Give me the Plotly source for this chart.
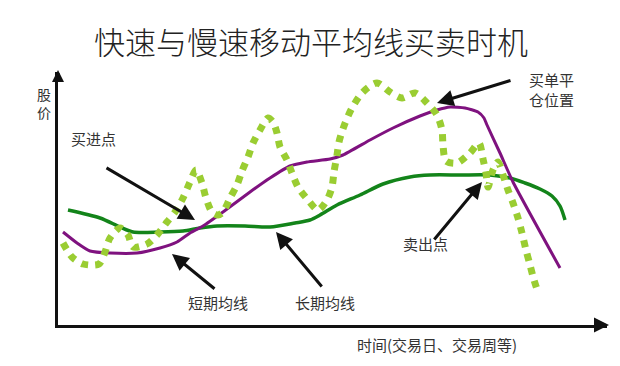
import plotly.graph_objects as go

# time (x) and price (y) values
long_t = [10, 42, 62, 75, 102, 125, 142, 159, 187, 212, 237, 252, 262, 279, 302, 325, 352, 372, 402, 432, 452, 467, 482, 494, 502, 507]
long_p = [115, 107, 98, 93, 93, 94, 97, 99, 99, 98, 102, 105, 110, 120, 130, 141, 148, 150, 150, 150, 147, 142, 136, 129, 119, 105]

short_t = [5, 19, 32, 52, 79, 102, 119, 132, 145, 165, 192, 212, 232, 249, 272, 285, 312, 335, 362, 379, 392, 407, 420, 426, 429, 442, 455, 502]
short_p = [93, 82, 74, 72, 72, 77, 83, 92, 99, 113, 133, 147, 159, 163, 166, 170, 185, 197, 209, 215, 218, 217, 213, 207, 200, 172, 143, 57]

price_t = [5, 14, 25, 41, 47, 52, 62, 70, 75, 89, 99, 109, 117, 125, 132, 138, 144, 148, 154, 160,
           165, 172, 179, 184, 190, 195, 202, 210, 215, 219, 222, 229, 234, 240, 250, 260, 269, 274, 276, 279,
           281, 286, 294, 305, 319, 332, 344, 357, 369, 379, 384, 385, 388, 399, 412, 421, 425, 428, 430, 435,
           440, 445, 450, 455, 460, 464, 468, 472, 476, 480]
price_p = [82, 68, 61, 61, 73, 87, 97, 90, 78, 81, 90, 103, 113, 127, 143, 155, 142, 127, 113, 110,
           113, 127, 140, 154, 168, 182, 195, 207, 203, 192, 178, 165, 152, 138, 125, 115, 125, 138, 153, 170,
           183, 199, 217, 233, 242, 233, 227, 232, 222, 210, 195, 180, 164, 162, 172, 182, 166, 152, 138, 155,
           163, 150, 135, 122, 107, 92, 75, 60, 45, 33]

X_MAX = 549
Y_MAX = 253

title_text = "快速与慢速移动平均线买卖时机"
y_label = "股<br>价"
x_label = "时间(交易日、交易周等)"

# labels: (text, x, y) in chart units
labels = [
    ("买进点", 35, 187),
    ("卖出点", 367, 82),
    ("短期均线", 160, 23),
    ("长期均线", 267, 23),
]
# arrows: (tail_x, tail_y, head_x, head_y)
arrows = [
    (47, 158, 137, 105),
    (454, 245, 379, 222),
    (375, 84, 424, 143),
    (158, 35, 114, 71),
    (265, 37, 218, 93),
]

FONT = "Noto Sans CJK SC"

fig = go.Figure()
fig.add_trace(go.Scatter(x=long_t, y=long_p, mode="lines",
                         line=dict(color="#13841a", width=3.5, shape="spline", smoothing=0.8),
                         hoverinfo="skip"))
fig.add_trace(go.Scatter(x=short_t, y=short_p, mode="lines",
                         line=dict(color="#7f127f", width=3, shape="spline", smoothing=0.5),
                         hoverinfo="skip"))
fig.add_trace(go.Scatter(x=price_t, y=price_p, mode="lines",
                         line=dict(color="#9acd32", width=7, dash="7px,7px", shape="spline", smoothing=0.8),
                         hoverinfo="skip"))

ann = []
for tx, ty, hx, hy in arrows:
    ann.append(dict(x=hx, y=hy, ax=tx, ay=ty, xref="x", yref="y", axref="x", ayref="y",
                    text="", showarrow=True, arrowhead=2, arrowsize=1.1, arrowwidth=3,
                    arrowcolor="#111111", standoff=0, startstandoff=0))
for txt, x, y in labels:
    ann.append(dict(x=x, y=y, xref="x", yref="y", text=txt, showarrow=False,
                    xanchor="center", yanchor="middle",
                    font=dict(family=FONT, size=15, color="#333333")))
ann.append(dict(x=469, y=236, xref="x", yref="y", text="买单平<br>仓位置", showarrow=False,
                xanchor="left", yanchor="middle", align="left",
                font=dict(family=FONT, size=15, color="#333333")))
ann.append(dict(x=-14 / X_MAX, y=222 / Y_MAX, xref="paper", yref="paper", text=y_label, showarrow=False,
                xanchor="center", yanchor="middle",
                font=dict(family=FONT, size=14, color="#333333")))
ann.append(dict(x=379 / X_MAX, y=-19 / Y_MAX, xref="paper", yref="paper", text=x_label, showarrow=False,
                xanchor="center", yanchor="middle",
                font=dict(family=FONT, size=15, color="#333333")))
ann.append(dict(x=253 / X_MAX, y=285 / Y_MAX, xref="paper", yref="paper", text=title_text, showarrow=False,
                xanchor="center", yanchor="middle",
                font=dict(family=FONT, size=31, color="#222222", weight=300)))
# axis arrowheads
ann.append(dict(x=551, y=0, ax=538, ay=0, xref="x", yref="y", axref="x", ayref="y", text="",
                showarrow=True, arrowhead=2, arrowsize=1, arrowwidth=3, arrowcolor="#111111", standoff=0))
ann.append(dict(x=0, y=255, ax=0, ay=243, xref="x", yref="y", axref="x", ayref="y", text="",
                showarrow=True, arrowhead=2, arrowsize=0.8, arrowwidth=3, arrowcolor="#111111", standoff=0))

fig.update_layout(
    width=620, height=366,
    margin=dict(l=58, r=13, t=72, b=41),
    paper_bgcolor="white", plot_bgcolor="white",
    showlegend=False,
    annotations=ann,
    xaxis=dict(range=[0, X_MAX], showgrid=False, zeroline=False, showticklabels=False, ticks="",
               showline=True, linecolor="#111111", linewidth=3, fixedrange=True),
    yaxis=dict(range=[0, Y_MAX], showgrid=False, zeroline=False, showticklabels=False, ticks="",
               showline=True, linecolor="#111111", linewidth=3, fixedrange=True),
)

fig.write_html("out.html", config={"displayModeBar": False},
               post_script="document.body.style.margin='0';document.body.style.overflow='hidden';")
